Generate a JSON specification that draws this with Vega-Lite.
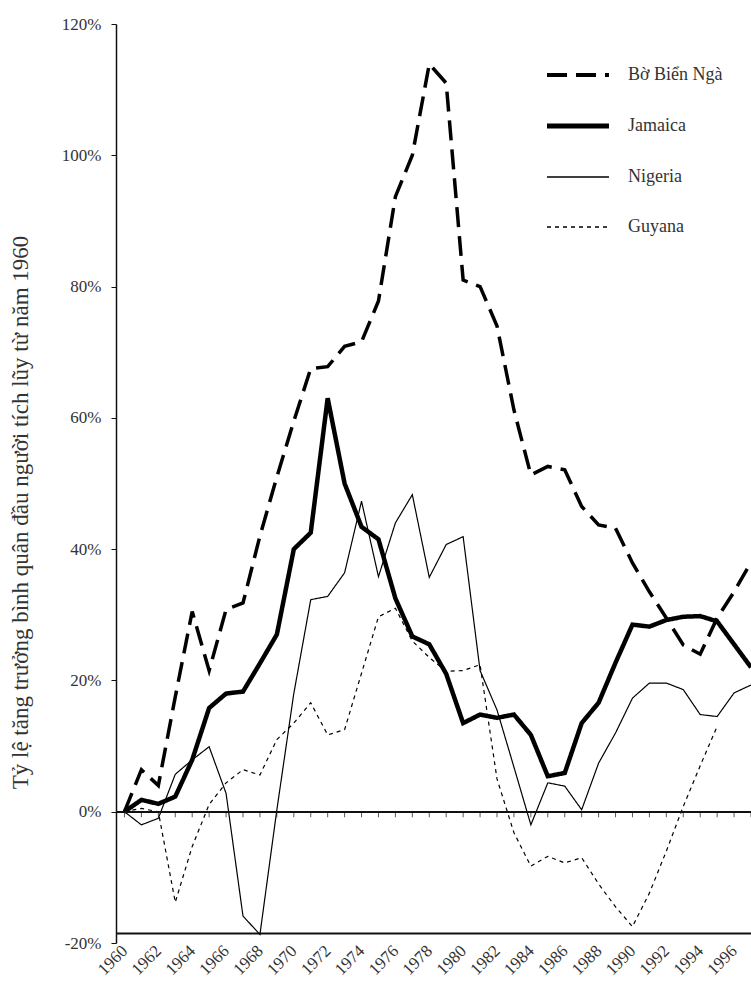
{
  "$schema": "https://vega.github.io/schema/vega-lite/v6.json",
  "autosize": {"type": "none"},
  "width": 635,
  "height": 919,
  "padding": {"left": 116, "top": 24, "right": 0, "bottom": 45},
  "background": "white",
  "config": {
    "view": {"stroke": null},
    "font": "Liberation Serif",
    "axis": {"grid": false, "labelOverlap": false, "labelBound": false, "labelFont": "Liberation Serif", "titleFont": "Liberation Serif", "labelColor": "#333", "titleColor": "#333", "domainColor": "#111", "tickColor": "#111"},
    "axisX": {"labelOverlap": false, "labelSeparation": 0},
    "legend": {"labelFont": "Liberation Serif"}
  },
  "data": {
    "values": [
      {"country": "Bờ Biển Ngà", "year": 1960, "value": 0},
      {"country": "Bờ Biển Ngà", "year": 1961, "value": 6.4},
      {"country": "Bờ Biển Ngà", "year": 1962, "value": 4},
      {"country": "Bờ Biển Ngà", "year": 1963, "value": 17.5},
      {"country": "Bờ Biển Ngà", "year": 1964, "value": 30.5},
      {"country": "Bờ Biển Ngà", "year": 1965, "value": 21.5},
      {"country": "Bờ Biển Ngà", "year": 1966, "value": 30.8},
      {"country": "Bờ Biển Ngà", "year": 1967, "value": 31.8},
      {"country": "Bờ Biển Ngà", "year": 1968, "value": 42},
      {"country": "Bờ Biển Ngà", "year": 1969, "value": 51},
      {"country": "Bờ Biển Ngà", "year": 1970, "value": 59.5},
      {"country": "Bờ Biển Ngà", "year": 1971, "value": 67.5},
      {"country": "Bờ Biển Ngà", "year": 1972, "value": 67.8},
      {"country": "Bờ Biển Ngà", "year": 1973, "value": 70.9},
      {"country": "Bờ Biển Ngà", "year": 1974, "value": 71.6},
      {"country": "Bờ Biển Ngà", "year": 1975, "value": 77.8},
      {"country": "Bờ Biển Ngà", "year": 1976, "value": 93.7},
      {"country": "Bờ Biển Ngà", "year": 1977, "value": 100},
      {"country": "Bờ Biển Ngà", "year": 1978, "value": 113.9},
      {"country": "Bờ Biển Ngà", "year": 1979, "value": 111},
      {"country": "Bờ Biển Ngà", "year": 1980, "value": 81},
      {"country": "Bờ Biển Ngà", "year": 1981, "value": 80},
      {"country": "Bờ Biển Ngà", "year": 1982, "value": 74},
      {"country": "Bờ Biển Ngà", "year": 1983, "value": 61.2},
      {"country": "Bờ Biển Ngà", "year": 1984, "value": 51.3},
      {"country": "Bờ Biển Ngà", "year": 1985, "value": 52.6},
      {"country": "Bờ Biển Ngà", "year": 1986, "value": 52.1},
      {"country": "Bờ Biển Ngà", "year": 1987, "value": 46.5},
      {"country": "Bờ Biển Ngà", "year": 1988, "value": 43.7},
      {"country": "Bờ Biển Ngà", "year": 1989, "value": 43.2},
      {"country": "Bờ Biển Ngà", "year": 1990, "value": 37.9},
      {"country": "Bờ Biển Ngà", "year": 1991, "value": 33.5},
      {"country": "Bờ Biển Ngà", "year": 1992, "value": 29.5},
      {"country": "Bờ Biển Ngà", "year": 1993, "value": 25.4},
      {"country": "Bờ Biển Ngà", "year": 1994, "value": 24},
      {"country": "Bờ Biển Ngà", "year": 1995, "value": 29.5},
      {"country": "Bờ Biển Ngà", "year": 1996, "value": 33.5},
      {"country": "Bờ Biển Ngà", "year": 1997, "value": 38},
      {"country": "Jamaica", "year": 1960, "value": 0},
      {"country": "Jamaica", "year": 1961, "value": 1.8},
      {"country": "Jamaica", "year": 1962, "value": 1.2},
      {"country": "Jamaica", "year": 1963, "value": 2.3},
      {"country": "Jamaica", "year": 1964, "value": 7.9},
      {"country": "Jamaica", "year": 1965, "value": 15.8},
      {"country": "Jamaica", "year": 1966, "value": 18},
      {"country": "Jamaica", "year": 1967, "value": 18.3},
      {"country": "Jamaica", "year": 1968, "value": 22.6},
      {"country": "Jamaica", "year": 1969, "value": 27},
      {"country": "Jamaica", "year": 1970, "value": 40},
      {"country": "Jamaica", "year": 1971, "value": 42.5},
      {"country": "Jamaica", "year": 1972, "value": 63},
      {"country": "Jamaica", "year": 1973, "value": 50},
      {"country": "Jamaica", "year": 1974, "value": 43.4},
      {"country": "Jamaica", "year": 1975, "value": 41.5},
      {"country": "Jamaica", "year": 1976, "value": 32.5},
      {"country": "Jamaica", "year": 1977, "value": 26.7},
      {"country": "Jamaica", "year": 1978, "value": 25.5},
      {"country": "Jamaica", "year": 1979, "value": 21},
      {"country": "Jamaica", "year": 1980, "value": 13.5},
      {"country": "Jamaica", "year": 1981, "value": 14.8},
      {"country": "Jamaica", "year": 1982, "value": 14.3},
      {"country": "Jamaica", "year": 1983, "value": 14.8},
      {"country": "Jamaica", "year": 1984, "value": 11.7},
      {"country": "Jamaica", "year": 1985, "value": 5.4},
      {"country": "Jamaica", "year": 1986, "value": 5.9},
      {"country": "Jamaica", "year": 1987, "value": 13.5},
      {"country": "Jamaica", "year": 1988, "value": 16.6},
      {"country": "Jamaica", "year": 1989, "value": 22.7},
      {"country": "Jamaica", "year": 1990, "value": 28.5},
      {"country": "Jamaica", "year": 1991, "value": 28.2},
      {"country": "Jamaica", "year": 1992, "value": 29.2},
      {"country": "Jamaica", "year": 1993, "value": 29.7},
      {"country": "Jamaica", "year": 1994, "value": 29.8},
      {"country": "Jamaica", "year": 1995, "value": 29},
      {"country": "Jamaica", "year": 1996, "value": 25.5},
      {"country": "Jamaica", "year": 1997, "value": 22},
      {"country": "Nigeria", "year": 1960, "value": 0},
      {"country": "Nigeria", "year": 1961, "value": -2},
      {"country": "Nigeria", "year": 1962, "value": -1},
      {"country": "Nigeria", "year": 1963, "value": 5.7},
      {"country": "Nigeria", "year": 1964, "value": 7.9},
      {"country": "Nigeria", "year": 1965, "value": 9.9},
      {"country": "Nigeria", "year": 1966, "value": 2.8},
      {"country": "Nigeria", "year": 1967, "value": -15.9},
      {"country": "Nigeria", "year": 1968, "value": -18.7},
      {"country": "Nigeria", "year": 1969, "value": 0.3},
      {"country": "Nigeria", "year": 1970, "value": 18},
      {"country": "Nigeria", "year": 1971, "value": 32.3},
      {"country": "Nigeria", "year": 1972, "value": 32.8},
      {"country": "Nigeria", "year": 1973, "value": 36.4},
      {"country": "Nigeria", "year": 1974, "value": 47.3},
      {"country": "Nigeria", "year": 1975, "value": 35.8},
      {"country": "Nigeria", "year": 1976, "value": 44},
      {"country": "Nigeria", "year": 1977, "value": 48.3},
      {"country": "Nigeria", "year": 1978, "value": 35.7},
      {"country": "Nigeria", "year": 1979, "value": 40.7},
      {"country": "Nigeria", "year": 1980, "value": 41.9},
      {"country": "Nigeria", "year": 1981, "value": 21.5},
      {"country": "Nigeria", "year": 1982, "value": 15.5},
      {"country": "Nigeria", "year": 1983, "value": 6.8},
      {"country": "Nigeria", "year": 1984, "value": -2},
      {"country": "Nigeria", "year": 1985, "value": 4.4},
      {"country": "Nigeria", "year": 1986, "value": 3.9},
      {"country": "Nigeria", "year": 1987, "value": 0.3},
      {"country": "Nigeria", "year": 1988, "value": 7.4},
      {"country": "Nigeria", "year": 1989, "value": 12},
      {"country": "Nigeria", "year": 1990, "value": 17.3},
      {"country": "Nigeria", "year": 1991, "value": 19.6},
      {"country": "Nigeria", "year": 1992, "value": 19.6},
      {"country": "Nigeria", "year": 1993, "value": 18.6},
      {"country": "Nigeria", "year": 1994, "value": 14.8},
      {"country": "Nigeria", "year": 1995, "value": 14.5},
      {"country": "Nigeria", "year": 1996, "value": 18.1},
      {"country": "Nigeria", "year": 1997, "value": 19.3},
      {"country": "Guyana", "year": 1960, "value": 0},
      {"country": "Guyana", "year": 1961, "value": 0.5},
      {"country": "Guyana", "year": 1962, "value": 0},
      {"country": "Guyana", "year": 1963, "value": -13.8},
      {"country": "Guyana", "year": 1964, "value": -5.3},
      {"country": "Guyana", "year": 1965, "value": 1.1},
      {"country": "Guyana", "year": 1966, "value": 4.4},
      {"country": "Guyana", "year": 1967, "value": 6.4},
      {"country": "Guyana", "year": 1968, "value": 5.6},
      {"country": "Guyana", "year": 1969, "value": 11},
      {"country": "Guyana", "year": 1970, "value": 13.5},
      {"country": "Guyana", "year": 1971, "value": 16.6},
      {"country": "Guyana", "year": 1972, "value": 11.7},
      {"country": "Guyana", "year": 1973, "value": 12.5},
      {"country": "Guyana", "year": 1974, "value": 21.1},
      {"country": "Guyana", "year": 1975, "value": 29.7},
      {"country": "Guyana", "year": 1976, "value": 31},
      {"country": "Guyana", "year": 1977, "value": 26},
      {"country": "Guyana", "year": 1978, "value": 23.5},
      {"country": "Guyana", "year": 1979, "value": 21.4},
      {"country": "Guyana", "year": 1980, "value": 21.5},
      {"country": "Guyana", "year": 1981, "value": 22.4},
      {"country": "Guyana", "year": 1982, "value": 5},
      {"country": "Guyana", "year": 1983, "value": -3.2},
      {"country": "Guyana", "year": 1984, "value": -8.3},
      {"country": "Guyana", "year": 1985, "value": -6.8},
      {"country": "Guyana", "year": 1986, "value": -7.8},
      {"country": "Guyana", "year": 1987, "value": -7},
      {"country": "Guyana", "year": 1988, "value": -11},
      {"country": "Guyana", "year": 1989, "value": -14.5},
      {"country": "Guyana", "year": 1990, "value": -17.5},
      {"country": "Guyana", "year": 1991, "value": -12.4},
      {"country": "Guyana", "year": 1992, "value": -6},
      {"country": "Guyana", "year": 1993, "value": 0.8},
      {"country": "Guyana", "year": 1994, "value": 7},
      {"country": "Guyana", "year": 1995, "value": 13}
    ]
  },
  "encoding": {
    "x": {
      "field": "year", "type": "quantitative",
      "scale": {"domain": [1959.5, 1997], "nice": false, "zero": false},
      "axis": {
        "title": null,
        "values": [1960, 1962, 1964, 1966, 1968, 1970, 1972, 1974, 1976, 1978, 1980, 1982, 1984, 1986, 1988, 1990, 1992, 1994, 1996],
        "format": "d",
        "labelAngle": -45,
        "labelAlign": "right",
        "labelBaseline": "middle",
        "labelFontSize": 17,
        "labelPadding": 15,
        "labelOverlap": false,
        "labelSeparation": 0,
        "ticks": false,
        "domainWidth": 2,
        "offset": -10
      }
    }
  },
  "layer": [
    {
      "mark": {"type": "line", "color": "black", "strokeJoin": "miter", "strokeCap": "butt"},
      "encoding": {
        "y": {
          "field": "value", "type": "quantitative",
          "scale": {"domain": [-20, 120], "nice": false},
          "axis": {
            "title": "Tỷ lệ tăng trưởng bình quân đầu người tích lũy từ năm 1960",
            "titleFontSize": 23,
            "titleFontWeight": "normal",
            "titleX": -84,
            "titleY": 488,
            "titleAlign": "center",
            "values": [-20, 0, 20, 40, 60, 80, 100, 120],
            "labelExpr": "datum.value + '%'",
            "labelFontSize": 17,
            "labelPadding": 10,
            "tickSize": 5,
            "domainWidth": 1.5
          }
        },
        "strokeDash": {
          "field": "country", "type": "nominal",
          "scale": {
            "domain": ["Bờ Biển Ngà", "Jamaica", "Nigeria", "Guyana"],
            "range": [[20, 9], [1, 0], [1, 0], [4, 4]]
          },
          "legend": {
            "title": null,
            "orient": "none",
            "legendX": 453,
            "legendY": 42,
            "symbolType": "stroke",
            "symbolSize": 3844,
            "symbolStrokeColor": "black",
            "labelFontSize": 18,
            "labelColor": "#333",
            "labelOffset": 41,
            "rowPadding": 32,
            "padding": 0,
            "encode": {
              "symbols": {
                "update": {
                  "strokeWidth": {"signal": "datum.value === 'Jamaica' ? 5 : datum.value === 'Bờ Biển Ngà' ? 4 : 1.3"},
                  "stroke": {"value": "black"}
                }
              }
            }
          }
        },
        "strokeWidth": {
          "condition": [
            {"test": "datum.country === 'Jamaica'", "value": 4.5},
            {"test": "datum.country === 'Bờ Biển Ngà'", "value": 3.5}
          ],
          "value": 1.2
        }
      }
    },
    {
      "mark": {"type": "rule", "color": "#111", "strokeWidth": 1.5},
      "encoding": {"x": {"value": 0}, "x2": {"value": 635}, "y": {"datum": 0}}
    },
    {
      "transform": [{"filter": "datum.country === 'Jamaica'"}],
      "mark": {"type": "tick", "orient": "vertical", "color": "#111", "size": 5, "thickness": 1, "yOffset": 3},
      "encoding": {
        "y": {"datum": 0}
      }
    }
  ]
}
